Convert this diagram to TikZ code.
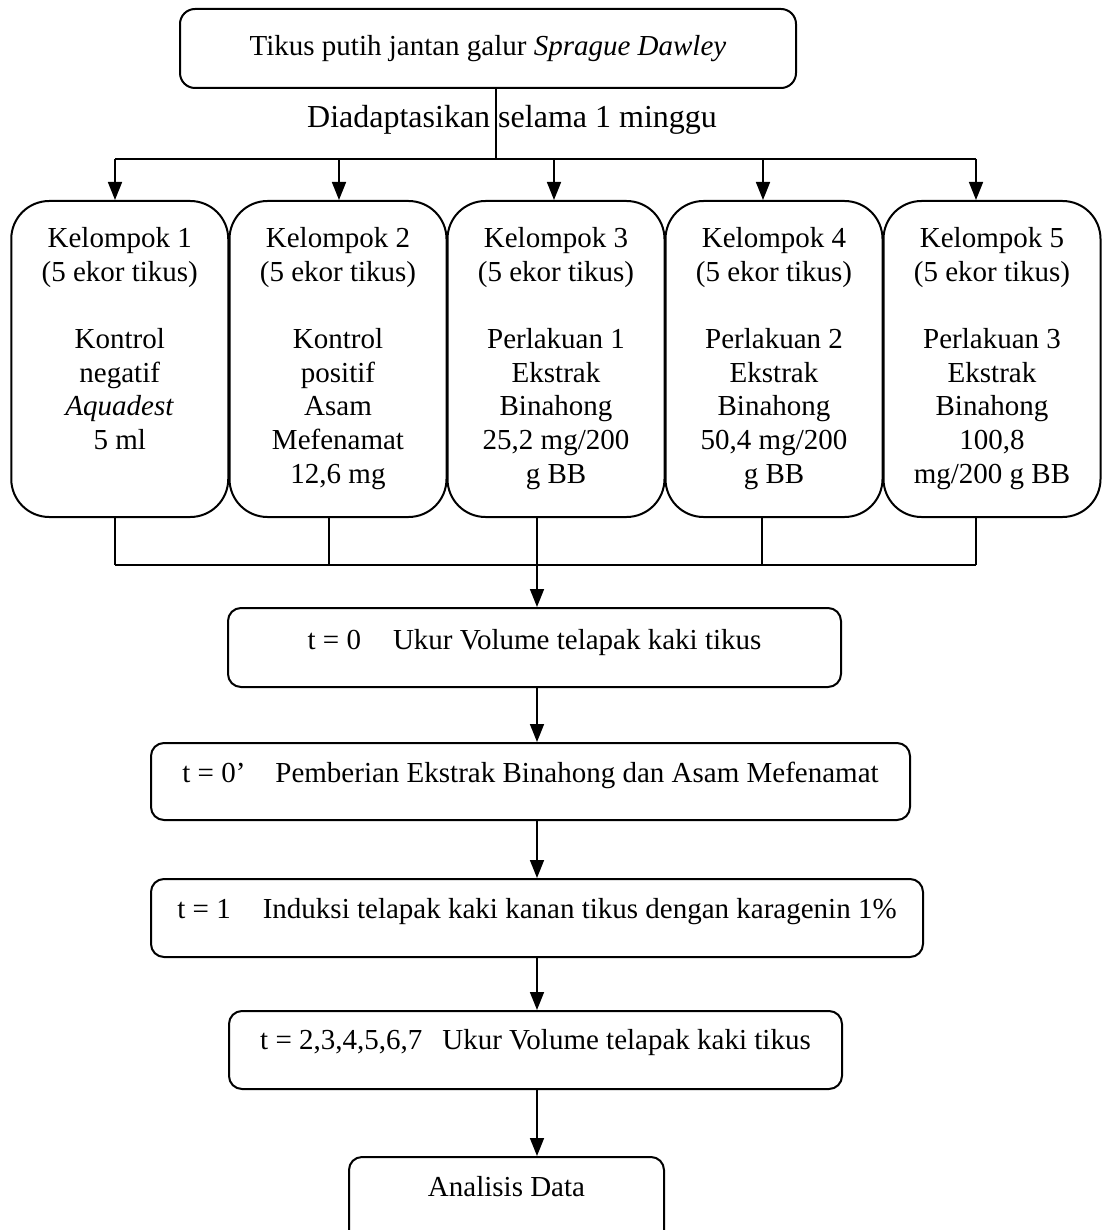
\documentclass[tikz,border=0pt]{standalone}
\usepackage{fontspec}
\setmainfont{Liberation Serif}
\usetikzlibrary{arrows.meta}
\begin{document}
\begin{tikzpicture}[x=1pt,y=-1pt,
  font=\fontsize{29}{33.7}\selectfont,
  grp/.style={draw, line width=2pt, rounded corners=38pt, minimum width=217pt, minimum height=316pt, inner sep=0pt},
  stepbox/.style={draw, line width=2pt, rounded corners=13pt, inner sep=0pt},
  lbl/.style={inner sep=0pt, align=center},
  arr/.style={line width=1.6pt, -{Triangle[length=18pt,width=14pt]}},
  ln/.style={line width=1.8pt},
  thinln/.style={line width=1.1pt}]
\useasboundingbox (0,0) rectangle (1109,1230);

% top
\node[stepbox, rounded corners=15pt, minimum width=616pt, minimum height=79pt] (top) at (488,48.5) {Tikus putih jantan galur \textit{Sprague Dawley}};
\node[lbl, anchor=base, font=\fontsize{32}{36}\selectfont] (adapt) at (512,128) {Diadaptasikan selama 1 minggu};

% groups
\node[grp] (g1) at (119.75,359) {};
\node[grp] (g2) at (338,359) {};
\node[grp] (g3) at (556,359) {};
\node[grp] (g4) at (774,359) {};
\node[grp] (g5) at (992,359) {};

\node[lbl, anchor=north] (l1) at ([yshift=-27pt]g1.north) {Kelompok 1\\(5 ekor tikus)\\[33.7pt]Kontrol\\negatif\\\textit{Aquadest}\\5 ml};
\node[lbl, anchor=north] (l2) at ([yshift=-27pt]g2.north) {Kelompok 2\\(5 ekor tikus)\\[33.7pt]Kontrol\\positif\\Asam\\Mefenamat\\12,6 mg};
\node[lbl, anchor=north] (l3) at ([yshift=-27pt]g3.north) {Kelompok 3\\(5 ekor tikus)\\[33.7pt]Perlakuan 1\\Ekstrak\\Binahong\\25,2 mg/200\\g BB};
\node[lbl, anchor=north] (l4) at ([yshift=-27pt]g4.north) {Kelompok 4\\(5 ekor tikus)\\[33.7pt]Perlakuan 2\\Ekstrak\\Binahong\\50,4 mg/200\\g BB};
\node[lbl, anchor=north] (l5) at ([yshift=-27pt]g5.north) {Kelompok 5\\(5 ekor tikus)\\[33.7pt]Perlakuan 3\\Ekstrak\\Binahong\\100,8\\mg/200 g BB};

% lower steps
\node[stepbox, minimum width=613pt, minimum height=79pt] (t0) at (534.5,647.5) {};
\node[stepbox, minimum width=759pt, minimum height=77pt] (t0p) at (530.5,781.5) {};
\node[stepbox, minimum width=772pt, minimum height=78pt] (t1) at (537,918) {};
\node[stepbox, minimum width=613pt, minimum height=78pt] (t2) at (535.5,1050) {};
\node[stepbox, minimum width=315pt, minimum height=88pt] (an) at (506.5,1201) {};

\node[lbl, anchor=base] (lt0) at ([yshift=-42pt]t0.north) {t = 0\hspace{32pt}Ukur Volume telapak kaki tikus};
\node[lbl, anchor=base] (lt0p) at ([yshift=-40pt]t0p.north) {t = 0’\hspace{30pt}Pemberian Ekstrak Binahong dan Asam Mefenamat};
\node[lbl, anchor=base] (lt1) at ([yshift=-40pt]t1.north) {t = 1\hspace{32pt}Induksi telapak kaki kanan tikus dengan karagenin 1\%};
\node[lbl, anchor=base] (lt2) at ([yshift=-39pt]t2.north) {t = 2,3,4,5,6,7\hspace{20pt}Ukur Volume telapak kaki tikus};
\node[lbl, anchor=base] (lan) at ([yshift=-40pt]an.north) {Analisis Data};

% connector coordinates
\coordinate (j) at (496,159);
\coordinate (a1) at (115,159);
\coordinate (a2) at (339,159);
\coordinate (a3) at (554,159);
\coordinate (a4) at (763,159);
\coordinate (a5) at (976,159);
\coordinate (b1) at (115,565);
\coordinate (b2) at (329,565);
\coordinate (b3) at (537,565);
\coordinate (b4) at (762,565);
\coordinate (b5) at (976,565);

\draw[thinln] (top.south -| j) -- (j);
\draw[ln] (a1) -- (a5);
\foreach \i in {1,...,5} \draw[arr] (a\i) -- (a\i |- g\i.north);
\foreach \i in {1,...,5} \draw[thinln] (b\i |- g\i.south) -- (b\i);
\draw[ln] (b1) -- (b5);
\draw[arr] (b3) -- (b3 |- t0.north);
\draw[arr] (t0.south -| b3) -- (t0p.north -| b3);
\draw[arr] (t0p.south -| b3) -- (t1.north -| b3);
\draw[arr] (t1.south -| b3) -- (t2.north -| b3);
\draw[arr] (t2.south -| b3) -- (an.north -| b3);
\end{tikzpicture}
\end{document}
